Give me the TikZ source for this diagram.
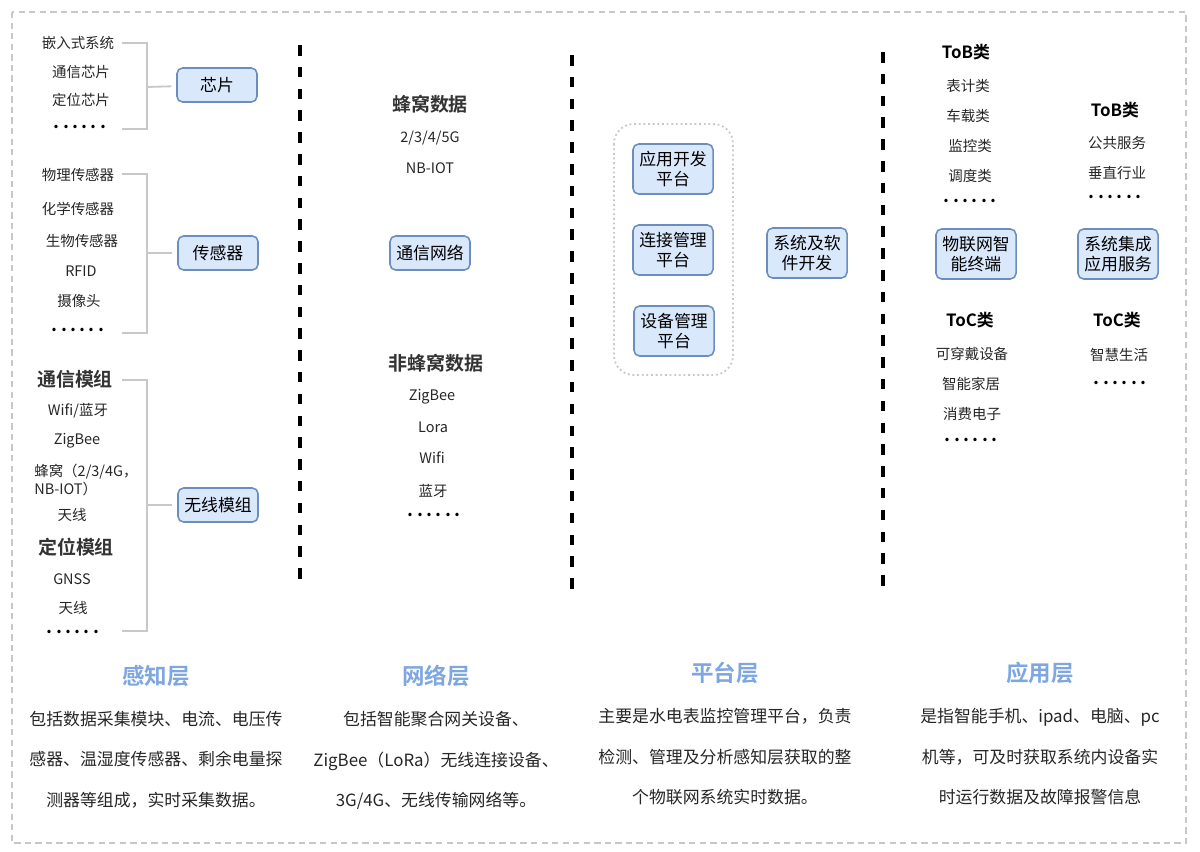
\documentclass[tikz,border=0pt]{standalone}
\usepackage{fontspec}
\setmainfont{Noto Sans CJK SC}[BoldFont={Noto Sans CJK SC Bold}]
\usetikzlibrary{positioning}
\definecolor{boxfill}{HTML}{DAE8FC}
\definecolor{boxline}{HTML}{6C8EBF}
\definecolor{layerblue}{HTML}{7EA6E0}
\definecolor{linegray}{HTML}{C8C8C8}
\newcommand{\dotrow}{\textcolor{black}{\fontsize{13pt}{13pt}\selectfont\bfseries .\hspace{2.4pt}.\hspace{2.4pt}.\hspace{2.4pt}.\hspace{2.4pt}.\hspace{2.4pt}.}}
\tikzset{x=0.025cm, y=-0.025cm, % One unit is one pixel of the sketch
every node/.style={inner sep=0pt, text=black!85},
item/.style={font=\fontsize{10.3pt}{13.5pt}\selectfont}, % Small list entries
head/.style={font=\fontsize{13.5pt}{15pt}\selectfont\bfseries, text=black!80},
cls/.style={font=\fontsize{12pt}{14pt}\selectfont\bfseries, text=black},
box/.style={ % Blue rounded boxes
draw=boxline,
fill=boxfill,
line width=1.1pt,
rounded corners=4pt,
minimum width=2cm,
minimum height=0.85cm,
align=center,
text=black,
font=\fontsize{12pt}{14pt}\selectfont},
tallbox/.style={box, minimum width=2cm, minimum height=1.25cm},
brk/.style={draw=linegray, line width=1.3pt},
sep/.style={line width=2.2pt, dash pattern=on 7.5pt off 8pt},
layer/.style={font=\fontsize{16pt}{18pt}\selectfont\bfseries, text=layerblue},
desc/.style={align=center, font=\fontsize{12pt}{28.8pt}\selectfont}}

\begin{document}
\begin{tikzpicture}
\useasboundingbox (0,0) rectangle (1200,852);
\draw[linegray, line width=1.1pt, dash pattern=on 4.5pt off 3pt] (12,12) rectangle (1186,843);

% separators between the layers
\draw[sep] (300,45) -- (300,588);
\draw[sep] (572,55) -- (572,595);
\draw[sep] (883,52) -- (883,592);

% sensing layer
\node[item] (c1) at (78,43) {嵌入式系统};
\node[item] (c2) at (81,72) {通信芯片};
\node[item] (c3) at (81,100) {定位芯片};
\node[item] (c4) at (80,127) {\dotrow};
\node[box] (chip) at (217,85) {芯片};
\coordinate (ct) at (122,43);
\coordinate (cb) at (122,129);
\coordinate (cm) at (147,87);
\draw[brk] (ct) -| (cm) |- (cb);
\draw[brk, shorten >=3.5pt] (cm) -- (chip);

\node[item] (s1) at (78,175) {物理传感器};
\node[item] (s2) at (78,209) {化学传感器};
\node[item] (s3) at (82,241) {生物传感器};
\node[item] (s4) at (81,271) {RFID};
\node[item] (s5) at (79,301) {摄像头};
\node[item] (s6) at (78,330) {\dotrow};
\node[box] (sensor) at (218,253) {传感器};
\coordinate (st) at (122,174);
\coordinate (sb) at (122,333);
\coordinate (sm) at (147,253);
\draw[brk] (st) -| (sm) |- (sb);
\draw[brk, shorten >=3.5pt] (sm) -- (sensor);

\node[head] (w1) at (75,379) {通信模组};
\node[item] (w2) at (78,411) {Wifi/蓝牙};
\node[item] (w3) at (77,441) {ZigBee};
\node[item, align=left, anchor=west] (w4) at (34,480) {蜂窝（2/3/4G，\\NB-IOT）};
\node[item] (w5) at (72,515) {天线};
\node[head] (w6) at (76,547) {定位模组};
\node[item] (w7) at (72,579) {GNSS};
\node[item] (w8) at (73,608) {天线};
\node[item] (w9) at (73,632) {\dotrow};
\node[box] (wireless) at (218,505) {无线模组};
\coordinate (wt) at (122,380);
\coordinate (wb) at (122,631);
\coordinate (wm) at (147,505);
\draw[brk] (wt) -| (wm) |- (wb);
\draw[brk, shorten >=3.5pt] (wm) -- (wireless);

% network layer
\node[head] (n1) at (430,104) {蜂窝数据};
\node[item] (n2) at (430,138) {2/3/4/5G};
\node[item] (n3) at (430,168) {NB-IOT};
\node[box] (net) at (430,253) {通信网络};
\node[head] (n4) at (436,363) {非蜂窝数据};
\node[item] (n5) at (432,397) {ZigBee};
\node[item] (n6) at (433,427) {Lora};
\node[item] (n7) at (432,458) {Wifi};
\node[item] (n8) at (433,491) {蓝牙};
\node[item] (n9) at (434,515) {\dotrow};

% platform layer
\draw[linegray, line width=1.3pt, dotted, rounded corners=14pt] (614,124) rectangle (733,375);
\node[tallbox] (appdev) at (673,169) {应用开发\\平台};
\node[tallbox] (connmgmt) at (673,250) {连接管理\\平台};
\node[tallbox] (devmgmt) at (674,331) {设备管理\\平台};
\node[tallbox] (syssoft) at (807,253) {系统及软\\件开发};

% application layer
\node[cls] (a1) at (966,52) {ToB类};
\node[item] (a2) at (968,86) {表计类};
\node[item] (a3) at (968,116) {车载类};
\node[item] (a4) at (970,146) {监控类};
\node[item] (a5) at (970,176) {调度类};
\node[item] (a6) at (970,201) {\dotrow};
\node[tallbox] (terminal) at (976,254) {物联网智\\能终端};
\node[cls] (a7) at (970,320) {ToC类};
\node[item] (a8) at (972,354) {可穿戴设备};
\node[item] (a9) at (971,384) {智能家居};
\node[item] (a10) at (972,414) {消费电子};
\node[item] (a11) at (971,440) {\dotrow};

\node[cls] (b1) at (1115,110) {ToB类};
\node[item] (b2) at (1117,143) {公共服务};
\node[item] (b3) at (1117,173) {垂直行业};
\node[item] (b4) at (1115,197) {\dotrow};
\node[tallbox] (integ) at (1118,254) {系统集成\\应用服务};
\node[cls] (b5) at (1117,320) {ToC类};
\node[item] (b6) at (1119,355) {智慧生活};
\node[item] (b7) at (1120,383) {\dotrow};

% layer names and notes
\node[layer] (l1) at (156,676) {感知层};
\node[layer] (l2) at (436,676) {网络层};
\node[layer] (l3) at (725,673) {平台层};
\node[layer] (l4) at (1040,673) {应用层};
\node[desc, below=17pt of l1] (d1) {包括数据采集模块、电流、电压传\\感器、温湿度传感器、剩余电量探\\测器等组成，实时采集数据。};
\node[desc, below=17pt of l2] (d2) {包括智能聚合网关设备、\\ZigBee（LoRa）无线连接设备、\\3G/4G、无线传输网络等。};
\node[desc, below=17pt of l3] (d3) {主要是水电表监控管理平台，负责\\检测、管理及分析感知层获取的整\\个物联网系统实时数据。};
\node[desc, below=17pt of l4] (d4) {是指智能手机、ipad、电脑、pc\\机等，可及时获取系统内设备实\\时运行数据及故障报警信息};
\end{tikzpicture}
\end{document}
